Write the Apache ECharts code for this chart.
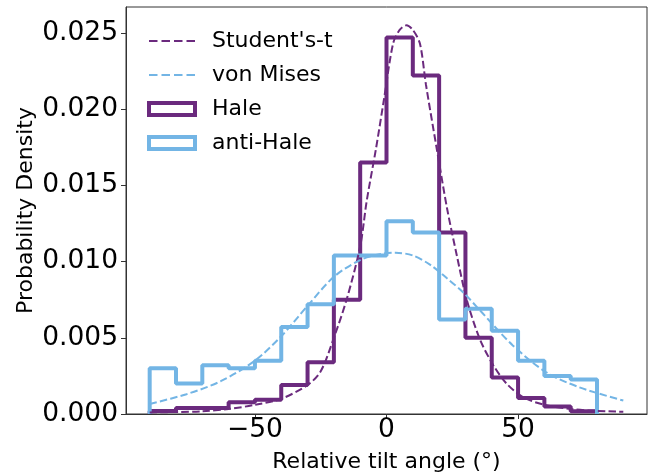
<!DOCTYPE html>
<html>
<head>
    <meta charset="utf-8">
    <title>Tilt angle distribution</title>
    <script src="https://cdn.jsdelivr.net/npm/echarts@6/dist/echarts.min.js"></script>
</head>
<body style="margin:0;background:#fff">
<div id="main" style="width:660px;height:474px;"></div>
<script type="text/javascript">
    // histogram bins (width 10 deg) and densities
    var binEdges = [-90, -80, -70, -60, -50, -40, -30, -20, -10, 0, 10, 20, 30, 40, 50, 60, 70, 80];
    var haleDensity = [0.0002, 0.0004, 0.0004, 0.00077, 0.00093, 0.0019, 0.0034, 0.0075, 0.0165,
        0.0247, 0.0222, 0.0119, 0.0050, 0.0024, 0.00105, 0.00049, 0.00018];
    var antiHaleDensity = [0.0030, 0.0020, 0.0032, 0.0030, 0.0035, 0.0057, 0.0072, 0.0104, 0.0104,
        0.01265, 0.0119, 0.0062, 0.0069, 0.00546, 0.0035, 0.0025, 0.00226];

    // fitted curves
    var tAngles = [-90, -80, -70, -60, -50, -40, -30, -25, -20, -15, -10, -7.5, -4, -1, 2.5, 5, 7.6,
        10, 12.7, 15, 19, 23, 26.6, 30.5, 35.5, 40.6, 45.6, 52, 60, 70, 80, 90];
    var tDensity = [0.0001, 0.00013, 0.00018, 0.00033, 0.0006, 0.001, 0.0019, 0.0028, 0.005, 0.0076,
        0.0110, 0.0140, 0.0174, 0.0206, 0.0243, 0.0252, 0.0255, 0.0252, 0.0243, 0.0216, 0.0175,
        0.0135, 0.0105, 0.0075, 0.0049, 0.0032, 0.002, 0.0011, 0.0006, 0.00033, 0.0002, 0.00015];
    var vmAngles = [-90, -76, -63, -50, -40, -30, -20, -10, -2, 3.5, 10, 16.5, 23, 29.6, 35.5, 48, 60.7, 73.3, 90];
    var vmDensity = [0.00066, 0.0013, 0.00215, 0.0035, 0.0051, 0.0071, 0.0090, 0.0101, 0.0105, 0.01058,
        0.0104, 0.0098, 0.0089, 0.0079, 0.0068, 0.0045, 0.00274, 0.00175, 0.00088];

    var xTicks = [-50, 0, 50];
    var yTicks = [0, 0.005, 0.010, 0.015, 0.020, 0.025];

    var purple = '#6b2a7e';
    var blue = '#73b5e5';
    var font = 'DejaVu Sans';
    // four dashes, like the matplotlib legend handle
    var dashIcon = 'path://M0,0h8.5v2h-8.5z M12.5,0h8.5v2h-8.5z M25,0h8.5v2h-8.5z M37.5,0h8.5v2h-8.5z';

    // step outline: start and end at zero like matplotlib histtype='step'
    function stepData(edges, dens) {
        var out = [[edges[0], 0]];
        for (var i = 0; i < dens.length; i++) {
            out.push([edges[i], dens[i]]);
        }
        out.push([edges[edges.length - 1], dens[dens.length - 1]]);
        out.push([edges[edges.length - 1], 0]);
        return out;
    }
    function pairs(xs, ys) {
        return xs.map(function (x, i) { return [x, ys[i]]; });
    }

    var myChart = echarts.init(document.getElementById('main'));
    myChart.setOption({
        animation: false,
        backgroundColor: '#fff',
        grid: {
            left: 126, right: 13, top: 7, bottom: 60,
            outerBoundsMode: 'none',
            show: true, borderColor: '#333', borderWidth: 1
        },
        legend: {
            orient: 'vertical',
            left: 142,
            top: 25,
            itemWidth: 46,
            itemHeight: 12,
            itemGap: 12,
            textStyle: {fontFamily: font, fontSize: 22, lineHeight: 20, color: '#000', padding: [0, 0, 0, 12]},
            data: [
                {name: "Student's-t", icon: dashIcon, itemStyle: {color: purple, borderWidth: 0}},
                {name: 'von Mises', icon: dashIcon, itemStyle: {color: blue, borderWidth: 0}},
                {name: 'Hale', icon: 'rect', itemStyle: {color: 'rgba(0,0,0,0)', borderColor: purple, borderWidth: 4}},
                {name: 'anti-Hale', icon: 'rect', itemStyle: {color: 'rgba(0,0,0,0)', borderColor: blue, borderWidth: 4}}
            ]
        },
        xAxis: {
            type: 'value',
            min: -99,
            max: 99,
            name: 'Relative tilt angle (°)',
            nameLocation: 'middle',
            nameGap: 37,
            nameMoveOverlap: false,
            nameTextStyle: {fontFamily: font, fontSize: 22, color: '#000'},
            axisLine: {onZero: false, lineStyle: {color: '#333', width: 1}},
            axisTick: {length: 5, lineStyle: {color: '#333'}, customValues: xTicks},
            axisLabel: {
                fontFamily: font, fontSize: 26.5, color: '#000', margin: 3,
                customValues: xTicks,
                formatter: function (v) { return String(v).replace('-', '\u2212'); }
            },
            splitLine: {show: false}
        },
        yAxis: {
            type: 'value',
            min: 0,
            max: 0.0267,
            name: 'Probability Density',
            nameLocation: 'middle',
            nameGap: 89,
            nameMoveOverlap: false,
            nameTextStyle: {fontFamily: font, fontSize: 22, color: '#000'},
            axisLine: {show: true, onZero: false, lineStyle: {color: '#333', width: 1}},
            axisTick: {show: true, length: 5, lineStyle: {color: '#333'}, customValues: yTicks},
            axisLabel: {
                fontFamily: font, fontSize: 26.5, color: '#000', margin: 8,
                customValues: yTicks,
                formatter: function (v) { return v.toFixed(3); }
            },
            splitLine: {show: false}
        },
        series: [
            {
                name: 'Hale', type: 'line', step: 'end', symbol: 'none', z: 1,
                data: stepData(binEdges, haleDensity),
                lineStyle: {color: purple, width: 4}, itemStyle: {color: purple}
            },
            {
                name: 'anti-Hale', type: 'line', step: 'end', symbol: 'none', z: 2,
                data: stepData(binEdges, antiHaleDensity),
                lineStyle: {color: blue, width: 4}, itemStyle: {color: blue}
            },
            {
                name: "Student's-t", type: 'line', smooth: 0.3, symbol: 'none', z: 3,
                data: pairs(tAngles, tDensity),
                lineStyle: {color: purple, width: 2, type: [7.4, 3.2]}, itemStyle: {color: purple}
            },
            {
                name: 'von Mises', type: 'line', smooth: 0.3, symbol: 'none', z: 3,
                data: pairs(vmAngles, vmDensity),
                lineStyle: {color: blue, width: 2, type: [7.4, 3.2]}, itemStyle: {color: blue}
            }
        ]
    });
</script>
</body>
</html>
